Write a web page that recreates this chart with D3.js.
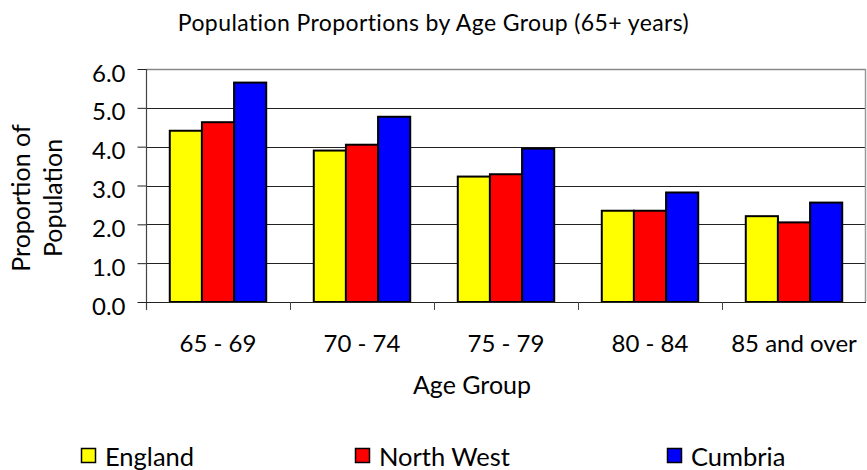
<!DOCTYPE html>
<html>
<head>
<meta charset="utf-8">
<script src="https://cdn.jsdelivr.net/npm/d3@7"></script>
<style>
  html, body { margin: 0; padding: 0; background: #fff; }
  svg { display: block; }
  text { font-family: Lato, "Open Sans", sans-serif; fill: #000; }
</style>
</head>
<body>
<svg id="chart" width="867" height="470"></svg>
<script>
const categories = ["65 - 69", "70 - 74", "75 - 79", "80 - 84", "85 and over"];
const seriesNames = ["England", "North West", "Cumbria"];
const england   = [4.41, 3.90, 3.23, 2.35, 2.21];
const northWest = [4.63, 4.05, 3.29, 2.35, 2.05];
const cumbria   = [5.65, 4.77, 3.95, 2.82, 2.56];
const seriesColors = ["#FFFF00", "#FF0000", "#0000FF"];
const yTicks = [0, 1, 2, 3, 4, 5, 6];
const yTickLabels = ["0.0", "1.0", "2.0", "3.0", "4.0", "5.0", "6.0"];
const titleText = "Population Proportions by Age Group (65+ years)";
const xTitle = "Age Group";
const yTitleLines = ["Proportion of", "Population"];

const seriesValues = [england, northWest, cumbria];

const svg = d3.select("#chart");
const plot = { left: 146, right: 866, top: 69, bottom: 302 };

const x = d3.scaleBand().domain(categories).range([plot.left, plot.right]).padding(0);
const xs = d3.scaleBand().domain(seriesNames).range([0, x.bandwidth()])
  .paddingInner(0).paddingOuter(0.74);
const y = d3.scaleLinear().domain([0, 6]).range([plot.bottom, plot.top]);

// Title
svg.append("text")
  .attr("x", 433.5).attr("y", 31)
  .attr("text-anchor", "middle")
  .style("font-size", "23px")
  .style("letter-spacing", "0.4px")
  .text(titleText);

// Gridlines
svg.append("g").selectAll("line").data(yTicks.filter(d => d > 0)).join("line")
  .attr("x1", plot.left).attr("x2", plot.right)
  .attr("y1", d => Math.round(y(d)) + 0.5).attr("y2", d => Math.round(y(d)) + 0.5)
  .attr("stroke", d => d === 6 ? "#888" : "#222")
  .attr("stroke-width", d => d === 6 ? 1.5 : 1);

// Right border
svg.append("line")
  .attr("x1", plot.right - 0.5).attr("x2", plot.right - 0.5)
  .attr("y1", plot.top).attr("y2", plot.bottom)
  .attr("stroke", "#999").attr("stroke-width", 1.5);

// Bars
const groups = svg.append("g").selectAll("g").data(categories).join("g")
  .attr("transform", d => `translate(${x(d)},0)`);
groups.selectAll("rect")
  .data((c, i) => seriesNames.map((s, j) => ({ s, v: seriesValues[j][i], color: seriesColors[j] })))
  .join("rect")
  .attr("x", d => xs(d.s))
  .attr("width", xs.bandwidth())
  .attr("y", d => y(d.v))
  .attr("height", d => y(0) - y(d.v))
  .attr("fill", d => d.color)
  .attr("stroke", "#000")
  .attr("stroke-width", 2);

// Y axis
const yAxis = d3.axisLeft(y).tickValues(yTicks)
  .tickFormat((d, i) => yTickLabels[i]).tickSize(9).tickPadding(12);
const gy = svg.append("g").attr("transform", `translate(${plot.left + 0.5},0)`).call(yAxis);
gy.select(".domain").remove();
gy.selectAll(".tick line").attr("stroke", "#222");
gy.selectAll(".tick text").style("font-size", "24px").attr("dy", "0.5em")
  .attr("font-family", null);
svg.append("line")
  .attr("x1", plot.left + 0.5).attr("x2", plot.left + 0.5)
  .attr("y1", plot.top).attr("y2", plot.bottom + 8)
  .attr("stroke", "#444").attr("stroke-width", 1.2);

// X axis baseline and ticks
svg.append("line")
  .attr("x1", plot.left).attr("x2", plot.right)
  .attr("y1", plot.bottom + 0.5).attr("y2", plot.bottom + 0.5)
  .attr("stroke", "#222").attr("stroke-width", 1.2);
svg.append("g").selectAll("line").data(categories.slice(1)).join("line")
  .attr("x1", d => Math.round(x(d)) + 0.5).attr("x2", d => Math.round(x(d)) + 0.5)
  .attr("y1", plot.bottom).attr("y2", plot.bottom + 8)
  .attr("stroke", "#444");
svg.append("g").selectAll("text").data(categories).join("text")
  .attr("x", d => x(d) + x.bandwidth() / 2)
  .attr("y", 352)
  .attr("text-anchor", "middle")
  .style("font-size", "24px")
  .text(d => d);

// Axis titles
svg.append("text")
  .attr("x", 472).attr("y", 394)
  .attr("text-anchor", "middle")
  .style("font-size", "25px")
  .text(xTitle);
svg.append("g").selectAll("text").data(yTitleLines).join("text")
  .attr("transform", (d, i) => `translate(${i === 0 ? 30 : 62},198) rotate(-90)`)
  .attr("text-anchor", "middle")
  .style("font-size", "25px")
  .text(d => d);

// Legend
const legendX = [81, 355, 667];
const lg = svg.append("g").selectAll("g").data(seriesNames).join("g")
  .attr("transform", (d, i) => `translate(${legendX[i]},448)`);
lg.append("rect").attr("x", 0.5).attr("y", 0.5).attr("width", 14).attr("height", 14)
  .attr("fill", (d, i) => seriesColors[i]).attr("stroke", "#000").attr("stroke-width", 1.5);
lg.append("text").attr("x", 24).attr("y", 18)
  .style("font-size", "25.5px")
  .text(d => d);
</script>
</body>
</html>
